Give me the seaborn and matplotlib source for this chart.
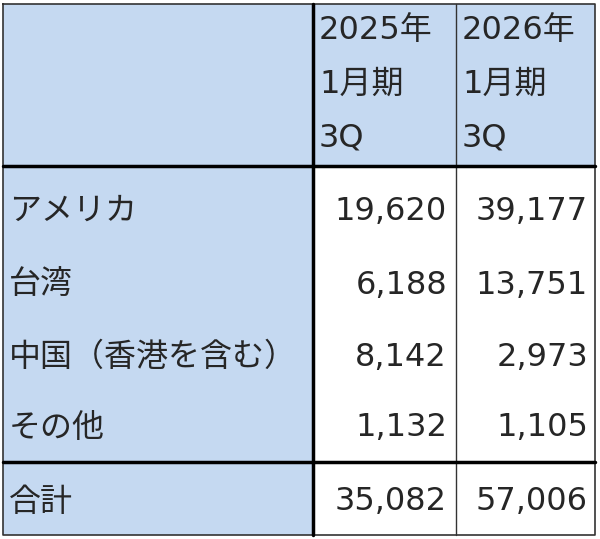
import matplotlib.pyplot as plt
import seaborn as sns
from matplotlib.patches import Rectangle

sns.set_theme(style="white")
plt.rcParams['font.family'] = ['DejaVu Sans', 'Noto Sans CJK JP']

headers = ["2025年\n1月期\n3Q", "2026年\n1月期\n3Q"]
regions = ["アメリカ", "台湾", "中国（香港を含む）", "その他"]
fy2025 = [19620, 6188, 8142, 1132]
fy2026 = [39177, 13751, 2973, 1105]
total_label = "合計"
totals = [35082, 57006]

blue = "#c5d9f1"
fs = 23

fig = plt.figure(figsize=(6, 5.39), dpi=100)
ax = fig.add_axes([0, 0, 1, 1])
ax.set_xlim(0, 600)
ax.set_ylim(539, 0)
ax.axis("off")

xs = [3, 313, 456, 595]
ys = [4, 166, 240, 313, 387, 462, 535]

# fills
ax.add_patch(Rectangle((xs[0], ys[0]), xs[3] - xs[0], ys[1] - ys[0], color=blue, lw=0))
ax.add_patch(Rectangle((xs[0], ys[1]), xs[1] - xs[0], ys[6] - ys[1], color=blue, lw=0))

# borders
ax.plot([xs[0], xs[3], xs[3], xs[0], xs[0]], [ys[0], ys[0], ys[6], ys[6], ys[0]], color="#333333", lw=1.2)
ax.plot([xs[1], xs[1]], [ys[0], ys[6]], color="black", lw=2.5)
ax.plot([xs[2], xs[2]], [ys[0], ys[6]], color="#333333", lw=1)
ax.plot([xs[0], xs[3]], [ys[1], ys[1]], color="black", lw=2.5)
ax.plot([xs[0], xs[3]], [ys[5], ys[5]], color="black", lw=2.5)

# header
for i, h in enumerate(headers):
    for j, line in enumerate(h.split("\n")):
        ax.text(xs[i + 1] + 6, 30 + j * 54, line, fontsize=fs, va="center", ha="left")

# body
row_y = [211, 285, 357, 428]
for y, r, a, b in zip(row_y, regions, fy2025, fy2026):
    ax.text(9, y, r, fontsize=fs, va="center", ha="left")
    ax.text(447, y, f"{a:,}", fontsize=fs, va="center", ha="right")
    ax.text(588, y, f"{b:,}", fontsize=fs, va="center", ha="right")

ax.text(9, 502, total_label, fontsize=fs, va="center", ha="left")
ax.text(447, 502, f"{totals[0]:,}", fontsize=fs, va="center", ha="right")
ax.text(588, 502, f"{totals[1]:,}", fontsize=fs, va="center", ha="right")

fig.savefig("out.png", dpi=100)
